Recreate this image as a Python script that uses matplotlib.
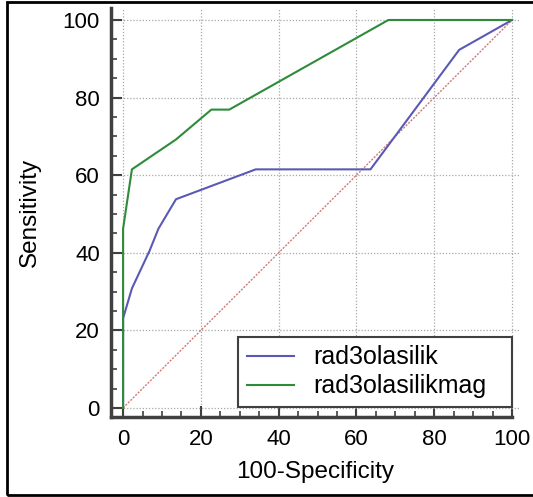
import matplotlib
matplotlib.use("Agg")
import matplotlib.pyplot as plt
from matplotlib.patches import Rectangle
from matplotlib.ticker import MultipleLocator

# ROC curve points (100-Specificity, Sensitivity)
fpr_a = [0, 0, 2.27, 6.8, 9.09, 13.6, 34.1, 63.6, 86.4, 100]
tpr_a = [0, 23.1, 30.8, 40.5, 46.2, 53.8, 61.5, 61.5, 92.3, 100]
fpr_b = [0, 0, 2.27, 13.6, 22.7, 27.3, 68.2, 100]
tpr_b = [0, 46.2, 61.5, 69.2, 76.9, 76.9, 100, 100]
names = ["rad3olasilik", "rad3olasilikmag"]
ticks = [0, 20, 40, 60, 80, 100]

plt.rcParams["font.family"] = ["Liberation Sans", "DejaVu Sans"]

fig = plt.figure(figsize=(5.33, 4.97), dpi=100)
ax = fig.add_axes([0.2083, 0.1612, 0.767, 0.822])

# reference diagonal
ax.plot([0, 100], [0, 100], color="#d07a7a", lw=1.0, ls=(0, (1.5, 1.0)), zorder=2)
ax.plot(fpr_a, tpr_a, color="#5a5ab4", lw=1.5, label=names[0], zorder=3)
ax.plot(fpr_b, tpr_b, color="#2e8b3a", lw=1.5, label=names[1], zorder=4)

ax.set_xlim(-3.1, 102)
ax.set_ylim(-2.3, 103)
ax.set_xticks(ticks)
ax.set_yticks(ticks)
ax.xaxis.set_minor_locator(MultipleLocator(5))
ax.yaxis.set_minor_locator(MultipleLocator(5))
ax.grid(True, which="major", color="#a8a8a8", ls=(0, (1, 1.5)), lw=0.9)

for s in ["top", "right"]:
    ax.spines[s].set_visible(False)
for s in ["left", "bottom"]:
    ax.spines[s].set_linewidth(2.5)
    ax.spines[s].set_color("#404040")
ax.spines["bottom"].set_bounds(-3.1, 100)

ax.tick_params(which="major", direction="in", length=8, width=1.5, color="#404040",
               labelsize=16)
ax.tick_params(which="minor", direction="in", length=4, width=1.2, color="#404040")
ax.tick_params(axis="x", which="major", pad=9)
ax.tick_params(axis="y", which="major", pad=8)

ax.set_xlabel("100-Specificity", fontsize=17.5, labelpad=8)
ax.set_ylabel("Sensitivity", fontsize=17.5, labelpad=16)

leg = ax.legend(loc="lower left", bbox_to_anchor=(0.311, 0.024, 0.670, 0.17), mode="expand",
                fontsize=18, fancybox=False, framealpha=1, edgecolor="#404040",
                handlelength=1.9, borderpad=0.35, labelspacing=0.2, handletextpad=0.75,
                borderaxespad=0)
leg.get_frame().set_linewidth(1.5)

# outer frame of the picture
fig.patches.append(Rectangle((7 / 533, 2 / 497), 1.2, 493 / 497, transform=fig.transFigure,
                             fill=False, lw=2, edgecolor="black"))

fig.savefig("out.png", dpi=100)
